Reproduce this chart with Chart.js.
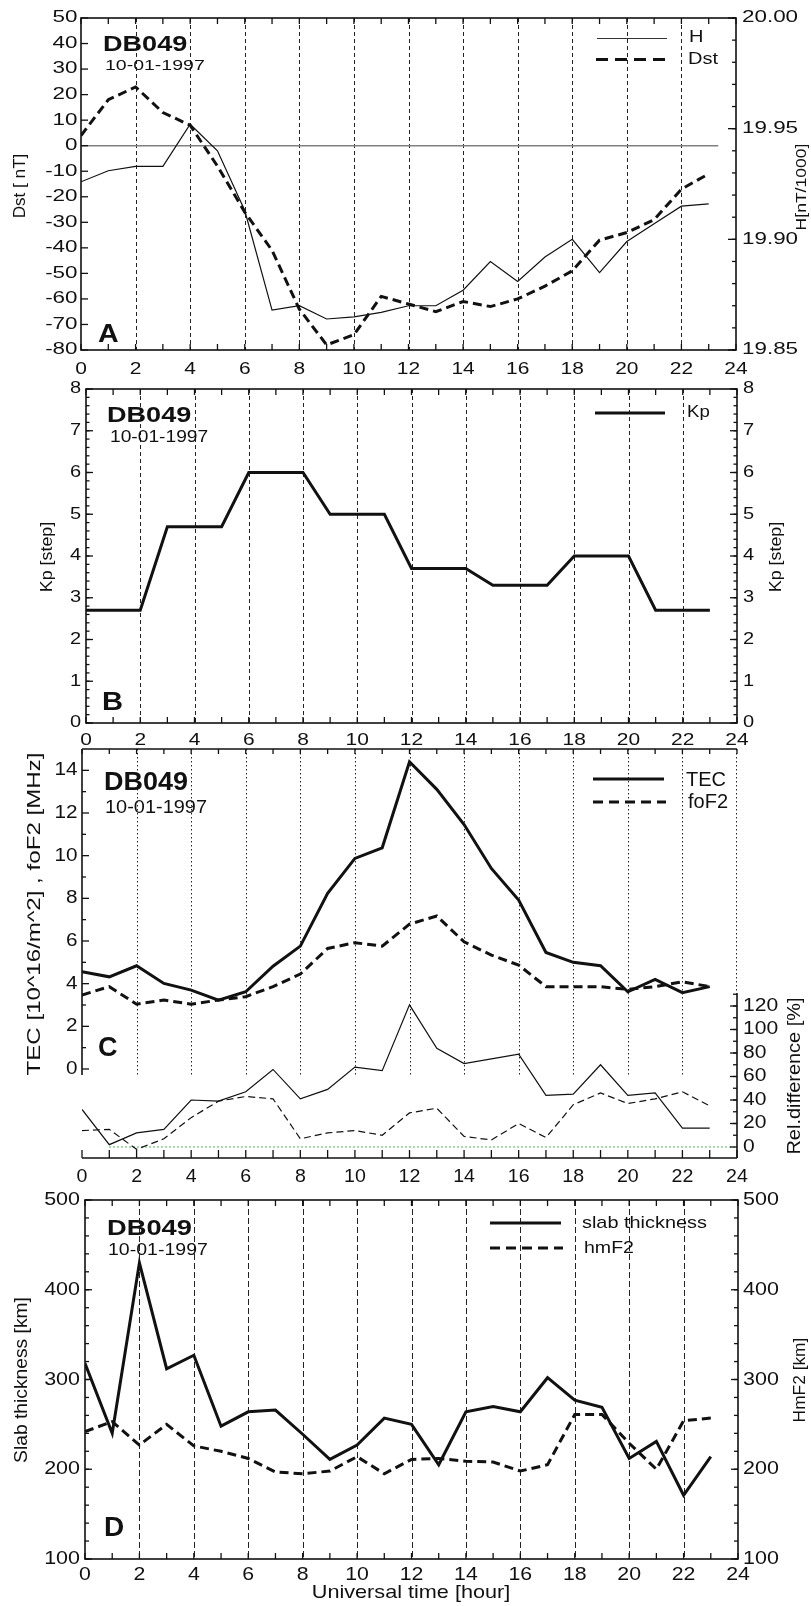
<!DOCTYPE html>
<html>
<head>
<meta charset="utf-8">
<script src="https://cdn.jsdelivr.net/npm/chart.js@4.4.1/dist/chart.umd.min.js"></script>
<style>
  html, body { margin: 0; padding: 0; background: #fff; }
  #wrap { position: relative; width: 811px; height: 1606px; overflow: hidden; background: #fff; }
  #wrap canvas { position: absolute; left: 0; top: 0; }
</style>
</head>
<body>
<div id="wrap">
  <canvas id="panelA" width="811" height="1606"></canvas>
  <canvas id="panelB" width="811" height="1606"></canvas>
  <canvas id="panelC" width="811" height="1606"></canvas>
  <canvas id="panelD" width="811" height="1606"></canvas>
</div>
<script>
// ---- hourly data, station DB049, 10-01-1997 ----
const HOURS = [0, 1, 2, 3, 4, 5, 6, 7, 8, 9, 10, 11, 12, 13, 14, 15, 16, 17, 18, 19, 20, 21, 22, 23];

// A: geomagnetic indices
const DST = [4, 18, 23, 13, 8, -8, -26, -41, -64, -78, -74, -59, -62, -65, -61, -63, -60, -55, -49, -37, -34, -29, -17, -11];
const H_FIELD = [19.926, 19.931, 19.933, 19.933, 19.952, 19.940, 19.913, 19.868, 19.870, 19.864, 19.865, 19.867,
                 19.870, 19.870, 19.877, 19.890, 19.881, 19.892, 19.900, 19.885, 19.899, 19.907, 19.915, 19.916];
const DST_ZERO_SPAN = [0, 23.35];

// B: planetary Kp
const KP = [2.7, 2.7, 2.7, 4.7, 4.7, 4.7, 6, 6, 6, 5, 5, 5, 3.7, 3.7, 3.7, 3.3, 3.3, 3.3, 4, 4, 4, 2.7, 2.7, 2.7];

// C: TEC, foF2 and their relative differences
const TEC = [4.56, 4.32, 4.84, 4.01, 3.70, 3.23, 3.62, 4.82, 5.76, 8.23, 9.87, 10.37,
             14.40, 13.11, 11.46, 9.40, 7.92, 5.46, 5.00, 4.84, 3.62, 4.20, 3.58, 3.86];
const FOF2 = [3.47, 3.86, 3.04, 3.23, 3.04, 3.23, 3.39, 3.86, 4.45, 5.65, 5.92, 5.76,
              6.79, 7.17, 5.96, 5.34, 4.87, 3.86, 3.86, 3.86, 3.73, 3.86, 4.09, 3.86];
const REL_TEC = [32, 2, 12, 15, 40, 39, 47, 66, 41, 49, 68, 65, 121, 84, 71, 75, 79, 44, 45, 70, 44, 46, 16, 16];
const REL_FOF2 = [14, 15, -2, 7, 25, 39, 43, 41, 7, 12, 14, 10, 29, 33, 9, 6, 20, 8, 36, 46, 37, 41, 47, 35];
const REL_ZERO_SPAN = [1, 24];

// D: slab thickness and hmF2
const SLAB = [318, 240, 430, 312, 327, 248, 264, 266, 239, 211, 227, 257, 250, 205, 264, 270, 264, 302, 277, 269, 212, 231, 171, 214];
const HMF2 = [242, 253, 227, 250, 226, 220, 212, 197, 195, 198, 214, 195, 211, 212, 209, 208, 198, 205, 261, 261, 229, 200, 254, 257];

// tick labels
const HOUR_TICKS = [0, 2, 4, 6, 8, 10, 12, 14, 16, 18, 20, 22, 24];
const DST_TICKS = [50, 40, 30, 20, 10, 0, -10, -20, -30, -40, -50, -60, -70, -80];
const H_TICKS = ['20.00', '19.95', '19.90', '19.85'];
const KP_TICKS = [0, 1, 2, 3, 4, 5, 6, 7, 8];
const TEC_TICKS = [0, 2, 4, 6, 8, 10, 12, 14];
const REL_TICKS = [0, 20, 40, 60, 80, 100, 120];
const KM_TICKS = [100, 200, 300, 400, 500];

const STATION = 'DB049';
const DAY = '10-01-1997';

// ---- drawing helpers ----
const FONT = '"Liberation Sans", Arial, Helvetica, sans-serif';
const INK = '#111';
const W = 811, HGT = 1606;

function text(ctx, s, x, y, o) {
  ctx.save();
  ctx.translate(x, y);
  if (o.rot) ctx.rotate(o.rot);
  ctx.scale(o.sx || 1, 1);
  ctx.font = (o.bold ? 'bold ' : '') + o.size + 'px ' + FONT;
  ctx.fillStyle = o.color || INK;
  ctx.textAlign = o.align || 'left';
  ctx.textBaseline = o.base || 'middle';
  ctx.fillText(String(s), 0, 0);
  ctx.restore();
}
function seg(ctx, x1, y1, x2, y2, w, dash, color) {
  ctx.save();
  ctx.beginPath();
  ctx.lineWidth = w;
  ctx.strokeStyle = color || INK;
  ctx.setLineDash(dash || []);
  ctx.lineCap = 'butt';
  ctx.moveTo(x1, y1);
  ctx.lineTo(x2, y2);
  ctx.stroke();
  ctx.restore();
}
function hourGrid(ctx, xs, y1, y2, dash, w) {
  HOUR_TICKS.filter(h => h > 0 && h < 24).forEach(h => {
    const px = Math.round(xs.getPixelForValue(h)) + 0.5;
    seg(ctx, px, y1, px, y2, w || 1, dash, '#222');
  });
}
function hourTicks(ctx, xs, y, dir, len) {
  for (let h = 0; h <= 24; h++) {
    const px = xs.getPixelForValue(h);
    seg(ctx, px, y, px, y + dir * len, 1.3);
  }
}
function valTicks(ctx, ys, x, dir, from, to, step, len) {
  const n = Math.round((to - from) / step);
  for (let i = 0; i <= n; i++) {
    const py = ys.getPixelForValue(from + i * step);
    seg(ctx, x, py, x + dir * len, py, 1.3);
  }
}
function xLabels(ctx, xs, y, o) {
  HOUR_TICKS.forEach(h => text(ctx, h, xs.getPixelForValue(h), y, Object.assign({ align: 'center' }, o)));
}
function yLabels(ctx, ys, labels, x, o) {
  labels.forEach(l => text(ctx, l, x, ys.getPixelForValue(parseFloat(l)), o));
}
function series(ys, axis, w, dash, color) {
  return {
    data: HOURS.map((h, i) => ({ x: h, y: ys[i] })),
    yAxisID: axis, borderColor: color || INK, borderWidth: w, borderDash: dash || [],
    pointRadius: 0, tension: 0, fill: false, borderCapStyle: 'butt', borderJoinStyle: 'miter'
  };
}
function span(xsPair, yVal, axis, w, dash, color) {
  return {
    data: xsPair.map(x => ({ x: x, y: yVal })),
    yAxisID: axis, borderColor: color, borderWidth: w, borderDash: dash || [],
    pointRadius: 0, tension: 0, fill: false
  };
}
function axis(min, max) { return { type: 'linear', display: false, min: min, max: max }; }

function makePanel(id, g, datasets, scales, deco) {
  return new Chart(document.getElementById(id), {
    type: 'line',
    data: { datasets: datasets },
    options: {
      responsive: false, animation: false, devicePixelRatio: 1, events: [],
      layout: { padding: { left: g.L, top: g.T, right: W - g.R, bottom: HGT - g.B } },
      plugins: { legend: { display: false }, tooltip: { enabled: false }, title: { display: false } },
      scales: scales
    },
    plugins: [{
      id: 'deco_' + id,
      beforeDatasetsDraw(chart) { deco.under(chart, chart.ctx); },
      afterDatasetsDraw(chart) { deco.over(chart, chart.ctx); }
    }]
  });
}
const UP = -Math.PI / 2;

// ---- Panel A: Dst and H ----
const gA = { L: 81, R: 736, T: 18, B: 350 };
makePanel('panelA', gA, [
  series(H_FIELD, 'yH', 1.2, [], '#111'),
  series(DST, 'yD', 3, [9, 5]),
  span(DST_ZERO_SPAN, 0, 'yD', 1.5, [], '#808080')
], { x: axis(0, 24), yD: axis(-80, 50), yH: axis(19.85, 20.00) }, {
  under(c, ctx) { hourGrid(ctx, c.scales.x, gA.T, gA.B, [4, 3]); },
  over(c, ctx) {
    const xs = c.scales.x, yD = c.scales.yD, yH = c.scales.yH;
    ctx.save(); ctx.lineWidth = 1.6; ctx.strokeStyle = INK; ctx.strokeRect(gA.L, gA.T, gA.R - gA.L, gA.B - gA.T); ctx.restore();
    hourTicks(ctx, xs, gA.T, 1, 6); hourTicks(ctx, xs, gA.B, -1, 6);
    valTicks(ctx, yD, gA.L, 1, -80, 50, 10, 7);
    valTicks(ctx, yH, gA.R, -1, 19.85, 20.00, 0.01, 4);
    valTicks(ctx, yH, gA.R, -1, 19.85, 20.00, 0.05, 8);
    yLabels(ctx, yD, DST_TICKS, gA.L - 3.5, { size: 16, sx: 1.4, align: 'right' });
    yLabels(ctx, yH, H_TICKS, 742, { size: 16, sx: 1.4 });
    xLabels(ctx, xs, 370, { size: 16, sx: 1.31 });
    text(ctx, 'Dst [ nT]', 21, 186, { size: 16, sx: 1.07, rot: UP, align: 'center' });
    text(ctx, 'H[nT/1000]', 802, 187, { size: 15, sx: 1.17, rot: UP, align: 'center' });
    text(ctx, STATION, 103, 45, { size: 22, bold: true, sx: 1.23 });
    text(ctx, DAY, 105, 66, { size: 15, sx: 1.3 });
    text(ctx, 'A', 98, 335, { size: 26, bold: true, sx: 1.1 });
    seg(ctx, 597, 38.5, 667, 38.5, 1.2, [], '#333');
    text(ctx, 'H', 689, 38, { size: 16, sx: 1.25 });
    seg(ctx, 596, 59.5, 667, 59.5, 3, [12, 7]);
    text(ctx, 'Dst', 688, 60, { size: 16, sx: 1.25 });
  }
});

// ---- Panel B: Kp ----
const gB = { L: 86, R: 737, T: 389, B: 723 };
makePanel('panelB', gB, [
  series(KP, 'yK', 3)
], { x: axis(0, 24), yK: axis(0, 8) }, {
  under(c, ctx) { hourGrid(ctx, c.scales.x, gB.T, gB.B, [4, 3]); },
  over(c, ctx) {
    const xs = c.scales.x, yK = c.scales.yK;
    ctx.save(); ctx.lineWidth = 1.6; ctx.strokeStyle = INK; ctx.strokeRect(gB.L, gB.T, gB.R - gB.L, gB.B - gB.T); ctx.restore();
    hourTicks(ctx, xs, gB.T, 1, 6); hourTicks(ctx, xs, gB.B, -1, 6);
    valTicks(ctx, yK, gB.L, 1, 0, 8, 0.2, 3.5); valTicks(ctx, yK, gB.L, 1, 0, 8, 1, 7);
    valTicks(ctx, yK, gB.R, -1, 0, 8, 0.2, 3.5); valTicks(ctx, yK, gB.R, -1, 0, 8, 1, 7);
    yLabels(ctx, yK, KP_TICKS, 81, { size: 16, sx: 1.25, align: 'right' });
    yLabels(ctx, yK, KP_TICKS, 743, { size: 16, sx: 1.25 });
    xLabels(ctx, xs, 740, { size: 16.5, sx: 1.27 });
    text(ctx, 'Kp [step]', 47, 557, { size: 17, sx: 1.05, rot: UP, align: 'center' });
    text(ctx, 'Kp [step]', 776, 557, { size: 17, sx: 1.05, rot: UP, align: 'center' });
    text(ctx, STATION, 107, 416, { size: 22, bold: true, sx: 1.23 });
    text(ctx, DAY, 110, 438, { size: 16, sx: 1.2 });
    text(ctx, 'B', 102, 703, { size: 26.5, bold: true, sx: 1.1 });
    seg(ctx, 595, 413, 665, 413, 3);
    text(ctx, 'Kp', 687, 413, { size: 16, sx: 1.16 });
  }
});

// ---- Panel C: TEC, foF2 and relative differences ----
const gC = { L: 82, R: 737, T: 749, B: 1158 };
makePanel('panelC', gC, [
  series(TEC, 'yT', 3),
  series(FOF2, 'yT', 3, [9, 5]),
  series(REL_TEC, 'yR', 1.2),
  series(REL_FOF2, 'yR', 1.2, [7, 4]),
  span(REL_ZERO_SPAN, 0, 'yR', 1, [1.5, 2.5], '#1f9a2a')
], { x: axis(0, 24), yT: axis(-4.172, 15), yR: axis(-9.362, 338.72) }, {
  under(c, ctx) {
    const xs = c.scales.x;
    hourGrid(ctx, xs, gC.T, 1077, [1.5, 2.5]);
    const p24 = Math.round(xs.getPixelForValue(24)) - 0.5;
    seg(ctx, p24, gC.T, p24, 993, 1, [1.5, 2.5], '#222');
  },
  over(c, ctx) {
    const xs = c.scales.x, yT = c.scales.yT, yR = c.scales.yR;
    seg(ctx, gC.L, gC.T, gC.R, gC.T, 1.6);
    seg(ctx, gC.L, gC.B, gC.R, gC.B, 1.6);
    seg(ctx, gC.L, gC.T, gC.L, 1075, 1.6);
    seg(ctx, gC.R, 993, gC.R, gC.B, 1.6);
    hourTicks(ctx, xs, gC.T, 1, 5); hourTicks(ctx, xs, gC.B, -1, 8);
    valTicks(ctx, yT, gC.L, 1, 1, 13, 2, 4); valTicks(ctx, yT, gC.L, 1, 0, 14, 2, 7);
    valTicks(ctx, yR, gC.R, -1, 10, 130, 10, 4); valTicks(ctx, yR, gC.R, -1, 0, 120, 20, 7);
    yLabels(ctx, yT, TEC_TICKS, 77.5, { size: 18, sx: 1.15, align: 'right' });
    yLabels(ctx, yR, REL_TICKS, 743, { size: 18, sx: 1.17 });
    xLabels(ctx, xs, 1177, { size: 19, sx: 1.03 });
    text(ctx, 'TEC [10^16/m^2] , foF2 [MHz]', 35, 914, { size: 19, sx: 1.27, rot: UP, align: 'center' });
    text(ctx, 'Rel.difference [%]', 795, 1076, { size: 19, sx: 1.05, rot: UP, align: 'center' });
    text(ctx, STATION, 104, 783, { size: 25, bold: true, sx: 1.08 });
    text(ctx, DAY, 105, 808, { size: 19, sx: 1.05 });
    text(ctx, 'C', 98, 1049, { size: 27, bold: true });
    seg(ctx, 593, 779, 664, 779, 3);
    text(ctx, 'TEC', 686, 780, { size: 20 });
    seg(ctx, 593, 802, 666, 802, 3, [10, 6]);
    text(ctx, 'foF2', 688, 802, { size: 20 });
  }
});

// ---- Panel D: slab thickness and hmF2 ----
const gD = { L: 85, R: 738, T: 1200, B: 1559 };
makePanel('panelD', gD, [
  series(SLAB, 'yS', 3),
  series(HMF2, 'yM', 3, [9, 5])
], { x: axis(0, 24), yS: axis(100, 500), yM: axis(100, 500) }, {
  under(c, ctx) { hourGrid(ctx, c.scales.x, gD.T, gD.B, [6, 3]); },
  over(c, ctx) {
    const xs = c.scales.x, yS = c.scales.yS, yM = c.scales.yM;
    ctx.save(); ctx.lineWidth = 1.6; ctx.strokeStyle = INK; ctx.strokeRect(gD.L, gD.T, gD.R - gD.L, gD.B - gD.T); ctx.restore();
    hourTicks(ctx, xs, gD.T, 1, 6); hourTicks(ctx, xs, gD.B, -1, 6);
    valTicks(ctx, yS, gD.L, 1, 100, 500, 20, 4); valTicks(ctx, yS, gD.L, 1, 100, 500, 100, 7);
    valTicks(ctx, yM, gD.R, -1, 100, 500, 20, 4); valTicks(ctx, yM, gD.R, -1, 100, 500, 100, 7);
    yLabels(ctx, yS, KM_TICKS, 80, { size: 19, sx: 1.13, align: 'right' });
    yLabels(ctx, yM, KM_TICKS, 743, { size: 19, sx: 1.13 });
    xLabels(ctx, xs, 1575, { size: 18.5, sx: 1.15 });
    text(ctx, 'Universal time [hour]', 411, 1593, { size: 18.5, sx: 1.17, align: 'center' });
    text(ctx, 'Slab thickness [km]', 22, 1380, { size: 18, sx: 1.07, rot: UP, align: 'center' });
    text(ctx, 'HmF2 [km]', 800, 1380, { size: 17, sx: 1.02, rot: UP, align: 'center' });
    text(ctx, STATION, 107, 1229, { size: 22, bold: true, sx: 1.24 });
    text(ctx, DAY, 108, 1251, { size: 16, sx: 1.22 });
    text(ctx, 'D', 104, 1528, { size: 28, bold: true });
    seg(ctx, 490, 1223, 561, 1223, 3);
    text(ctx, 'slab thickness', 582, 1223, { size: 17, sx: 1.17 });
    seg(ctx, 490, 1248, 563, 1248, 3, [10, 6]);
    text(ctx, 'hmF2', 584, 1248, { size: 17, sx: 1.15 });
  }
});
</script>
</body>
</html>
